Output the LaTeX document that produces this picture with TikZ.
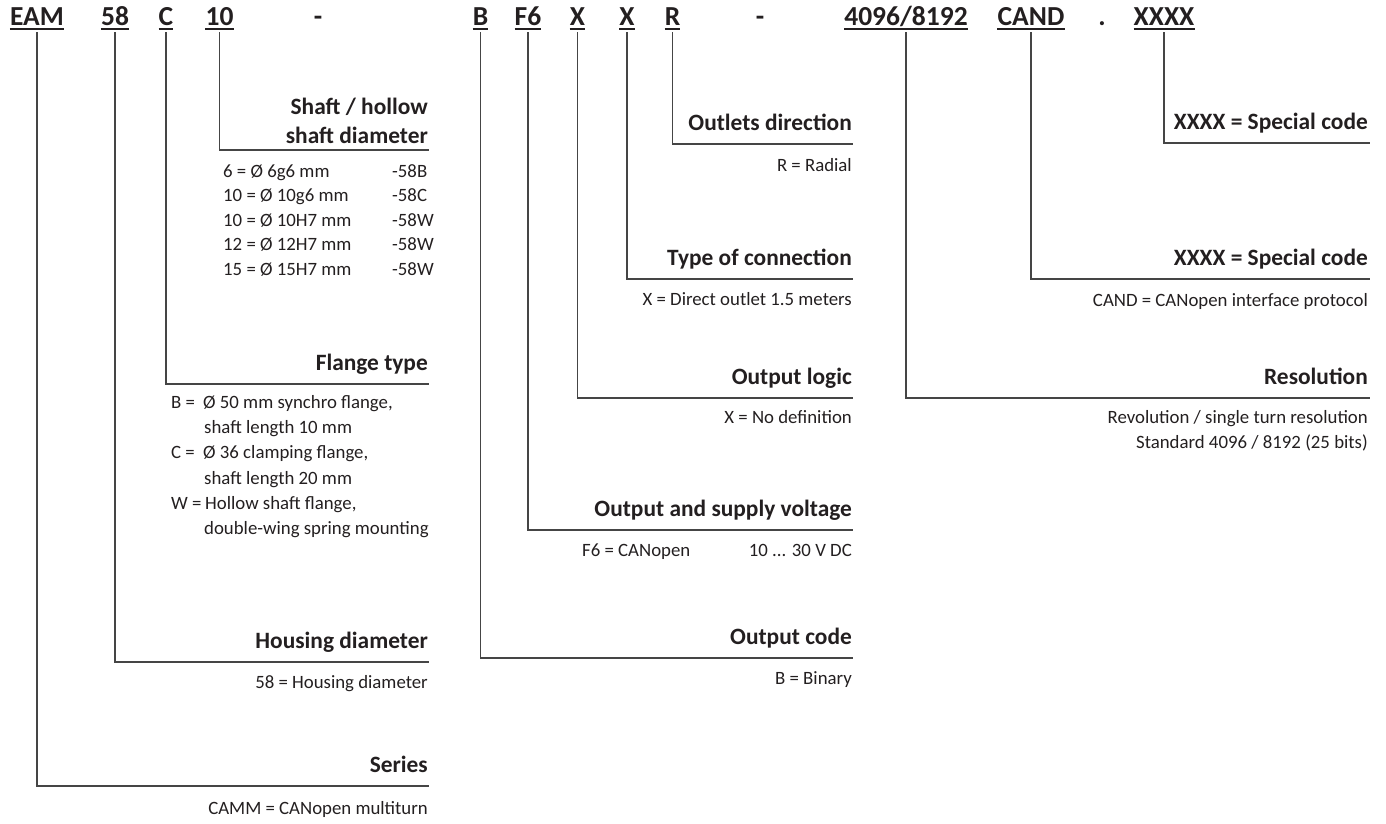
\documentclass[tikz,border=0pt]{standalone}
\usepackage{fontspec}
\setmainfont{Carlito}
\definecolor{txt}{HTML}{231F20}
\definecolor{linec}{HTML}{454545}
\newcommand\hdrfont{\fontsize{27.5}{30}\selectfont\bfseries}
\newcommand\ttlfont{\fontsize{23.4}{28}\selectfont\bfseries}
\newcommand\bdyfont{\fontsize{18.8}{25}\selectfont}
\tikzset{
  hdr/.style={font=\hdrfont, text=txt, inner xsep=0pt, inner ysep=7pt, text depth=0pt, anchor=base},
  ttl/.style={font=\ttlfont, text=txt, inner sep=0pt, anchor=base east},
  bdy/.style={font=\bdyfont, text=txt, inner sep=0pt, anchor=base east},
  bdyl/.style={font=\bdyfont, text=txt, inner sep=0pt, anchor=base west},
  lead/.style={draw=linec, line width=1.3pt},
  uline/.style={draw=txt, line width=1.8pt}
}
\newcommand\hdritem[3]{%
  \node[hdr] (#1) at (#2,25) {#3};
  \draw[uline] ([yshift=-4.3pt]#1.base west) -- ([yshift=-4.3pt]#1.base east);}
\begin{document}
\begin{tikzpicture}[x=1pt,y=-1pt]
\useasboundingbox (0,0) rectangle (1386,823);
% header
\hdritem{eam}{37}{EAM}
\hdritem{dia}{115}{58}
\hdritem{fl}{166}{C}
\hdritem{sh}{219.5}{10}
\node[hdr] (d1) at (318,25) {-};
\hdritem{oc}{480.5}{B}
\hdritem{ov}{528}{F6}
\hdritem{ol}{577.5}{X}
\hdritem{tc}{627}{X}
\hdritem{od}{672.5}{R}
\node[hdr] (d2) at (760,25) {-};
\hdritem{res}{906}{4096/8192}
\hdritem{cand}{1031}{CAND}
\node[hdr] (dot) at (1102,25) {.};
\hdritem{spc}{1164}{XXXX}
% line ends
\coordinate (e-shaft) at (429,150);
\coordinate (e-flange) at (429,384);
\coordinate (e-housing) at (429,662);
\coordinate (e-series) at (429,786);
\coordinate (e-outlet) at (853,144);
\coordinate (e-conn) at (853,279);
\coordinate (e-logic) at (853,398);
\coordinate (e-supply) at (853,530);
\coordinate (e-code) at (853,658);
\coordinate (e-spec) at (1370,143);
\coordinate (e-cand) at (1370,279);
\coordinate (e-res) at (1370,398);
% leaders
\draw[lead] (eam.south) |- (e-series);
\draw[lead] (dia.south) |- (e-housing);
\draw[lead] (fl.south) |- (e-flange);
\draw[lead] (sh.south) |- (e-shaft);
\draw[lead] (oc.south) |- (e-code);
\draw[lead] (ov.south) |- (e-supply);
\draw[lead] (ol.south) |- (e-logic);
\draw[lead] (tc.south) |- (e-conn);
\draw[lead] (od.south) |- (e-outlet);
\draw[lead] (res.south) |- (e-res);
\draw[lead] (cand.south) |- (e-cand);
\draw[lead] (spc.south) |- (e-spec);
% left column
\node[ttl] (t-shaft1) at (428,114) {Shaft / hollow};
\node[ttl] (t-shaft2) at (428,143) {shaft diameter};
\node[bdyl] (s1a) at (223,177) {6 = Ø 6g6 mm};
\node[bdyl] (s1b) at (392,177) {-58B};
\node[bdyl] (s2a) at (223,201.5) {10 = Ø 10g6 mm};
\node[bdyl] (s2b) at (392,201.5) {-58C};
\node[bdyl] (s3a) at (223,226) {10 = Ø 10H7 mm};
\node[bdyl] (s3b) at (392,226) {-58W};
\node[bdyl] (s4a) at (223,250.5) {12 = Ø 12H7 mm};
\node[bdyl] (s4b) at (392,250.5) {-58W};
\node[bdyl] (s5a) at (223,275) {15 = Ø 15H7 mm};
\node[bdyl] (s5b) at (392,275) {-58W};
\node[ttl] (t-flange) at (428,370) {Flange type};
\node[bdyl] (f1a) at (171,408) {B =};
\node[bdyl] (f1b) at (203,408) {Ø 50 mm synchro flange,};
\node[bdyl] (f2) at (204,433.3) {shaft length 10 mm};
\node[bdyl] (f3a) at (171,458.6) {C =};
\node[bdyl] (f3b) at (203,458.6) {Ø 36 clamping flange,};
\node[bdyl] (f4) at (204,484) {shaft length 20 mm};
\node[bdyl] (f5a) at (171,509.3) {W =};
\node[bdyl] (f5b) at (205,509.3) {Hollow shaft flange,};
\node[bdyl] (f6) at (204,534.6) {double-wing spring mounting};
\node[ttl] (t-housing) at (428,648) {Housing diameter};
\node[bdy] (b-housing) at (428,688) {58 = Housing diameter};
\node[ttl] (t-series) at (428,772) {Series};
\node[bdy] (b-series) at (428,814) {CAMM = CANopen multiturn};
% middle column
\node[ttl] (t-outlet) at (852,130) {Outlets direction};
\node[bdy] (b-outlet) at (852,171) {R = Radial};
\node[ttl] (t-conn) at (852,265) {Type of connection};
\node[bdy] (b-conn) at (852,305) {X = Direct outlet 1.5 meters};
\node[ttl] (t-logic) at (852,384) {Output logic};
\node[bdy] (b-logic) at (852,423) {X = No definition};
\node[ttl] (t-supply) at (852,516) {Output and supply voltage};
\node[bdyl] (b-supply1) at (582,556) {F6 = CANopen};
\node[bdy] (b-supply2) at (852,556) {10 ... 30 V DC};
\node[ttl] (t-code) at (852,644) {Output code};
\node[bdy] (b-code) at (852,684) {B = Binary};
% right column
\node[ttl] (t-spec) at (1368,129) {XXXX = Special code};
\node[ttl] (t-cand) at (1368,265) {XXXX = Special code};
\node[bdy] (b-cand) at (1368,306) {CAND = CANopen interface protocol};
\node[ttl] (t-res) at (1368,384) {Resolution};
\node[bdy] (b-res1) at (1368,423) {Revolution / single turn resolution};
\node[bdy] (b-res2) at (1368,448) {Standard 4096 / 8192 (25 bits)};
\end{tikzpicture}
\end{document}
